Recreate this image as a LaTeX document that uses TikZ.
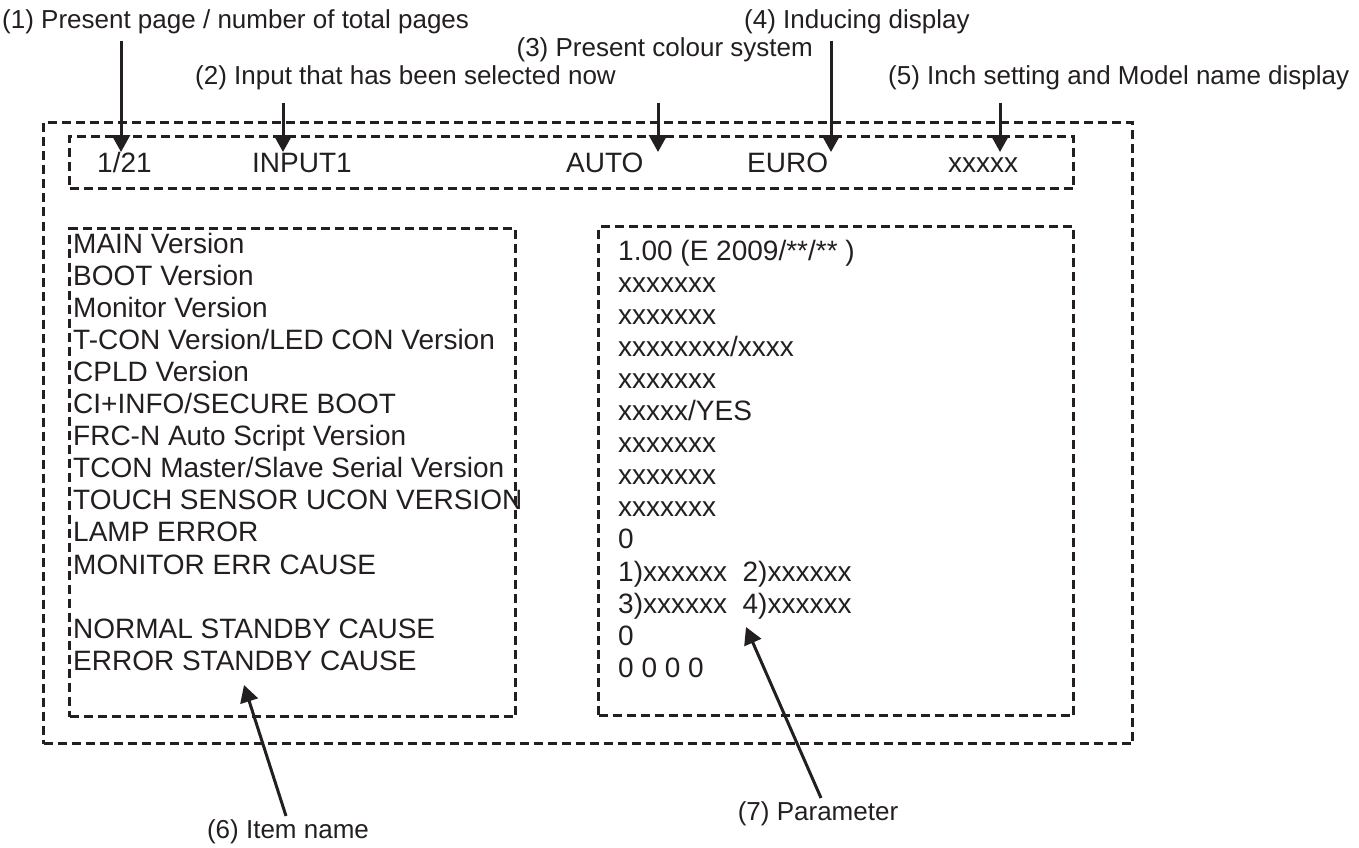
\documentclass[tikz,border=0pt]{standalone}
\usepackage{fontspec}
\setmainfont{Liberation Sans}
\usetikzlibrary{arrows.meta,calc}
\definecolor{ink}{HTML}{231F20}
\begin{document}
\begin{tikzpicture}[x=1pt,y=-1pt,
  dbox/.style={draw=ink, line width=3pt, dash pattern=on 9pt off 5pt, inner sep=0pt, anchor=north west},
  lbl/.style={inner sep=0pt, anchor=base west, text=ink, font=\fontsize{26}{28}\selectfont},
  itm/.style={inner sep=0pt, anchor=base west, text=ink, font=\fontsize{28}{32}\selectfont},
  arr/.style={draw=ink, line width=3pt, -{Triangle[width=18pt,length=17pt]}}]
\useasboundingbox (0,0) rectangle (1359,848);
% boxes
\node[dbox, minimum width=1089pt, minimum height=621pt] (outer) at (42,121) {};
\node[dbox, minimum width=1004pt, minimum height=52pt] (topbox) at (68,135) {};
\node[dbox, minimum width=446pt, minimum height=488pt] (leftbox) at (68,227) {};
\node[dbox, minimum width=475pt, minimum height=489pt] (rightbox) at (597,225) {};
% top row
\node[itm] (p1) at (97,172) {1/21};
\node[itm] (p2) at (252,172) {INPUT1};
\node[itm] (p3) at (566,172) {AUTO};
\node[itm] (p4) at (747,172) {EURO};
\node[itm] (p5) at (948,172) {xxxxx};
% labels
\node[lbl] (l1) at (2,29) {(1) Present page / number of total pages};
\node[lbl] (l2) at (195,85) {(2) Input that has been selected now};
\node[lbl, anchor=base east] (l3) at (813,57) {(3) Present colour system};
\node[lbl] (l4) at (744,29) {(4) Inducing display};
\node[lbl] (l5) at (888,85) {(5) Inch setting and Model name display};
\node[lbl, anchor=base] (l6) at (288,838) {(6) Item name};
\node[lbl, anchor=base] (l7) at (818,820) {(7) Parameter};
% arrow tips
\coordinate (t1) at (121,152);
\coordinate (t2) at (283,152);
\coordinate (t3) at (658,152);
\coordinate (t4) at (831,152);
\coordinate (t5) at (1000,152);
\coordinate (t6) at (244,685);
\coordinate (t7) at (746,627);
\draw[arr] ($(l1.south -| t1)+(0,6)$) -- (t1);
\draw[arr] ($(l2.south -| t2)+(0,12)$) -- (t2);
\draw[arr] ($(l3.south -| t3)+(0,40)$) -- (t3);
\draw[arr] ($(l4.south -| t4)+(0,6)$) -- (t4);
\draw[arr] ($(l5.south -| t5)+(0,12)$) -- (t5);
\draw[arr] ($(l6.north)+(-2,-3)$) -- (t6);
\draw[arr] ($(l7.north)+(3,-3)$) -- (t7);
% left column
\node[itm] (a1) at (73,253.0) {MAIN Version};
\node[itm] (a2) at (73,285.1) {BOOT Version};
\node[itm] (a3) at (73,317.2) {Monitor Version};
\node[itm] (a4) at (73,349.3) {T-CON Version/LED CON Version};
\node[itm] (a5) at (73,381.4) {CPLD Version};
\node[itm] (a6) at (73,413.5) {CI+INFO/SECURE BOOT};
\node[itm] (a7) at (73,445.6) {FRC-N Auto Script Version};
\node[itm] (a8) at (73,477.7) {TCON Master/Slave Serial Version};
\node[itm] (a9) at (73,509.8) {TOUCH SENSOR UCON VERSION};
\node[itm] (a10) at (73,541.9) {LAMP ERROR};
\node[itm] (a11) at (73,574.0) {MONITOR ERR CAUSE};
\node[itm] (a13) at (73,638.2) {NORMAL STANDBY CAUSE};
\node[itm] (a14) at (73,670.3) {ERROR STANDBY CAUSE};
% right column
\node[itm] (b1) at (618,260.0) {1.00 (E 2009/**/** )};
\node[itm] (b2) at (618,292.1) {xxxxxxx};
\node[itm] (b3) at (618,324.2) {xxxxxxx};
\node[itm] (b4) at (618,356.3) {xxxxxxxx/xxxx};
\node[itm] (b5) at (618,388.4) {xxxxxxx};
\node[itm] (b6) at (618,420.5) {xxxxx/YES};
\node[itm] (b7) at (618,452.6) {xxxxxxx};
\node[itm] (b8) at (618,484.7) {xxxxxxx};
\node[itm] (b9) at (618,516.8) {xxxxxxx};
\node[itm] (b10) at (618,548.9) {0};
\node[itm] (b11) at (618,581.0) {1)xxxxxx\ \ 2)xxxxxx};
\node[itm] (b12) at (618,613.1) {3)xxxxxx\ \ 4)xxxxxx};
\node[itm] (b13) at (618,645.2) {0};
\node[itm] (b14) at (618,677.3) {0 0 0 0};
\end{tikzpicture}
\end{document}
